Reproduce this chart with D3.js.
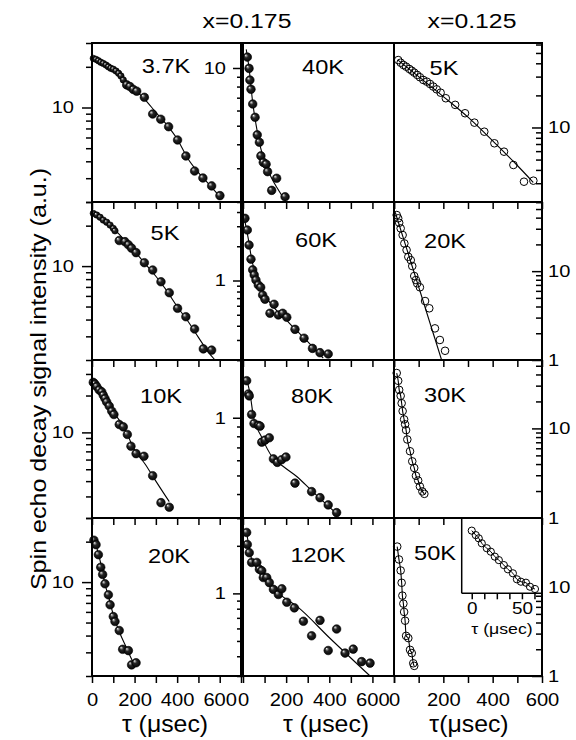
<!DOCTYPE html>
<html>
<head>
<meta charset="utf-8">
<script src="https://cdn.jsdelivr.net/npm/d3@7"></script>
<style>
body { margin: 0; background: #fff; }
svg text { font-family: "Liberation Sans", Arial, Helvetica, sans-serif; fill: #000; }
</style>
</head>
<body>
<svg id="chart" width="576" height="740"></svg>
<script>
// spin echo decay, [tau (usec), intensity (a.u.)]
// x = 0.175
var d175_3K7 = [[6,23.1],[19,22.7],[30,22.2],[41,21.6],[53,21.2],[66,20.6],[77,20.0],[88,19.5],[100,19.2],[113,18.6],[125,17.9],[136,17.1],[147,16.0],[163,14.7],[178,14.3],[194,13.6],[210,13.2],[246,11.9],[285,8.95],[323,8.19],[360,7.21],[402,5.75],[441,4.38],[482,3.39],[521,3.01],[562,2.63],[601,2.23]];
var d175_5K = [[6,24.7],[22,24.0],[38,23.1],[53,22.0],[69,21.2],[85,20.2],[100,19.1],[108,18.3],[128,15.5],[155,15.2],[171,14.4],[186,13.6],[207,12.6],[246,10.6],[285,9.35],[324,7.65],[363,6.34],[402,4.85],[441,4.20],[482,3.40],[523,2.42],[562,2.37]];
var d175_10K = [[6,25.6],[14,24.8],[22,23.7],[34,22.2],[46,21.4],[53,20.1],[61,18.9],[69,17.7],[81,16.4],[93,14.9],[103,14.0],[128,11.6],[147,11.1],[166,9.62],[183,7.71],[207,6.71],[244,6.38],[285,4.43],[324,2.67],[363,2.45]];
var d175_20K = [[9,20.5],[19,19.0],[30,16.0],[41,12.9],[50,11.4],[61,9.72],[77,8.04],[85,6.78],[100,5.54],[108,5.09],[128,4.36],[144,3.16],[171,3.09],[186,2.42],[207,2.51]];
var d175_40K = [[20,11.4],[28,9.95],[32,8.65],[37,7.74],[45,6.49],[56,5.53],[66,4.48],[76,4.10],[83,3.48],[94,3.22],[107,3.15],[114,2.88],[133,2.30],[156,2.66],[195,2.13]];
var d175_60K = [[9,3.52],[20,2.78],[28,2.05],[37,1.54],[45,1.24],[52,1.12],[60,1.01],[71,0.914],[82,0.871],[91,0.746],[102,0.684],[125,0.515],[144,0.618],[164,0.498],[184,0.515],[203,0.475],[241,0.372],[283,0.311],[322,0.253],[357,0.232],[395,0.226]];
var d175_80K = [[17,1.56],[25,1.33],[29,1.30],[40,1.04],[51,0.933],[71,0.912],[79,0.904],[87,0.746],[102,0.764],[122,0.786],[141,0.610],[159,0.585],[179,0.604],[199,0.624],[241,0.456],[318,0.412],[357,0.383],[395,0.351],[434,0.320]];
var d175_120K = [[17,2.43],[20,2.04],[29,1.81],[40,1.57],[64,1.57],[76,1.42],[87,1.39],[94,1.26],[110,1.26],[122,1.17],[141,1.06],[164,0.984],[180,1.07],[203,0.879],[238,0.810],[280,0.666],[318,0.539],[357,0.675],[395,0.435],[434,0.595],[473,0.419],[511,0.444],[550,0.370],[589,0.362]];
// x = 0.125
var d125_5K = [[17,42.9],[27,40.5],[38,38.6],[49,37.2],[62,35.4],[72,34.1],[82,32.7],[94,31.1],[105,29.6],[119,27.9],[133,26.9],[146,25.6],[159,24.2],[173,22.8],[189,21.2],[210,18.8],[248,16.3],[288,13.6],[326,11.1],[366,9.13],[407,7.11],[446,5.93],[484,4.45],[527,3.10],[565,3.17]];
var d125_20K = [[11,42.8],[17,39.3],[21,35.0],[27,30.3],[35,25.5],[42,20.5],[51,17.3],[58,14.5],[68,13.3],[74,11.4],[82,8.81],[89,7.94],[94,7.29],[105,6.58],[126,4.61],[143,3.82],[166,2.27],[186,1.68],[207,1.27]];
var d125_30K = [[11,41.5],[17,34.0],[21,26.9],[27,23.1],[31,19.1],[35,15.6],[41,12.6],[45,11.1],[49,9.57],[54,7.52],[65,5.56],[74,4.29],[82,3.62],[89,2.96],[98,2.62],[105,2.25],[115,1.98],[123,1.86]];
var d125_50K = [[13,28.6],[20,20.5],[27,15.4],[31,11.2],[34,8.03],[38,6.52],[41,5.26],[45,4.19],[49,2.83],[58,2.67],[65,1.97],[72,1.81],[78,1.39],[82,1.30]];
var d125_50K_inset = [[0,25.3],[4,23.5],[7,22.2],[10,20.2],[15,18.2],[19,16.8],[23,14.8],[27,13.4],[32,11.4],[36,9.69],[41,8.08],[45,5.65],[49,4.68],[54,4.28],[58,2.66],[63,1.74]];

// fitted curves
var f175_3K7 = [[0,23.6],[50,21.4],[100,19.3],[150,16.3],[200,13.6],[250,11.4],[300,9.2],[350,7.5],[400,5.85],[450,4.2],[500,3.3],[550,2.7],[600,2.2]];
var f175_5K = [[0,25.5],[50,22.5],[100,19.2],[150,15.8],[200,12.9],[250,10.4],[300,8.4],[350,6.6],[400,5.0],[450,3.9],[500,2.95],[550,2.25],[578,2.0]];
var f175_10K = [[0,27.5],[50,21.5],[100,14.8],[150,11.0],[200,7.2],[250,5.5],[300,4.0],[363,2.72]];
var f175_20K = [[0,22],[20,18.5],[40,14],[60,9.8],[80,7.6],[100,5.7],[130,4.2],[160,3.3],[190,2.6],[210,2.35]];
var f175_40K = [[15,12.5],[28,10],[45,6.6],[60,5.1],[80,3.9],[100,3.25],[130,2.7],[160,2.35],[200,2.0]];
var f175_60K = [[5,3.6],[15,2.9],[25,2.3],[40,1.55],[60,1.1],[80,0.88],[110,0.7],[150,0.56],[200,0.45],[250,0.36],[300,0.29],[340,0.24],[372,0.208]];
var f175_80K = [[15,1.6],[32,1.35],[48,1.02],[87,0.79],[133,0.63],[187,0.557],[249,0.494],[318,0.417],[442,0.31]];
var f175_120K = [[17,2.43],[40,1.65],[94,1.29],[171,0.985],[249,0.83],[403,0.52],[589,0.3]];
var f125_5K = [[15,43],[100,30],[200,19.5],[300,12.5],[400,7.5],[500,4.4],[565,3.05]];
var f125_20K = [[5,46],[193,1.0]];

var colLabels = ['x=0.175', 'x=0.125'];
var xTickLabels = [0, 200, 400, 600];
var yTitle = 'Spin echo decay signal intensity (a.u.)';

// layout
var colX = [[92, 241], [243, 394], [394, 542]];
var rowY = [43, 202, 360, 518, 676];
var xMax = [700, 700, 600];
var SX = 1.18; // glyphs in the reference are a bit wider than Arial

// nSmall: the densely sampled first points are drawn with smaller balls
var panels = [
    {col:0, row:0, label:'3.7K', lx:166, ly:73, dom:[2,30],    pts:d175_3K7,  fit:f175_3K7, nSmall:13},
    {col:1, row:0, label:'40K',  lx:323, ly:74, dom:[2,13.5],  pts:d175_40K,  fit:f175_40K},
    {col:2, row:0, label:'5K',   lx:444, ly:75, dom:[2,62],    pts:d125_5K,   fit:f125_5K},
    {col:0, row:1, label:'5K',   lx:165, ly:240, dom:[2,30],   pts:d175_5K,   fit:f175_5K, nSmall:8},
    {col:1, row:1, label:'60K',  lx:316, ly:247, dom:[0.2,4.9],pts:d175_60K,  fit:f175_60K},
    {col:2, row:1, label:'20K',  lx:445, ly:248, dom:[1,60],   pts:d125_20K,  fit:f125_20K},
    {col:0, row:2, label:'10K',  lx:161, ly:403, dom:[2,39],   pts:d175_10K,  fit:f175_10K},
    {col:1, row:2, label:'80K',  lx:312, ly:403, dom:[0.3,2.0],pts:d175_80K,  fit:f175_80K},
    {col:2, row:2, label:'30K',  lx:445, ly:402, dom:[1,58],   pts:d125_30K,  fit:d125_30K},
    {col:0, row:3, label:'20K',  lx:169, ly:563, dom:[2,30],   pts:d175_20K,  fit:f175_20K},
    {col:1, row:3, label:'120K', lx:318, ly:562, dom:[0.3,3.0],pts:d175_120K, fit:f175_120K},
    {col:2, row:3, label:'50K',  lx:435, ly:560, dom:[1,60],   pts:d125_50K,  fit:d125_50K}
];

var svg = d3.select('#chart');

// dark ball with a small highlight, like the filled symbols
var grad = svg.append('defs').append('radialGradient')
    .attr('id', 'ball').attr('cx', '50%').attr('cy', '50%').attr('r', '55%')
    .attr('fx', '30%').attr('fy', '28%');
grad.append('stop').attr('offset', '0%').attr('stop-color', '#ffffff');
grad.append('stop').attr('offset', '14%').attr('stop-color', '#a0a0a0');
grad.append('stop').attr('offset', '40%').attr('stop-color', '#262626');
grad.append('stop').attr('offset', '100%').attr('stop-color', '#000');

function stretch(sel, sx){
    sel.each(function(){
        var t = d3.select(this);
        var x = +t.attr('x') || 0, y = +t.attr('y') || 0;
        t.attr('x', null).attr('y', null)
         .attr('transform', 'translate(' + x + ',' + y + ') scale(' + sx + ',1)');
    });
}

function label(x, y, str, size, anchor, sx){
    return svg.append('text')
        .attr('transform', 'translate(' + x + ',' + y + ') scale(' + (sx || SX) + ',1)')
        .attr('text-anchor', anchor || 'middle')
        .style('font-size', size + 'px')
        .text(str);
}

function isMajor(v){
    var l = Math.log10(v);
    return Math.abs(l - Math.round(l)) < 1e-6;
}

function cleanAxis(g){
    g.select('.domain').remove();
    g.selectAll('line').attr('stroke', '#000').attr('stroke-width', 1.5);
    g.selectAll('text').style('font-size', '17px').attr('fill', '#000');
}

var line = d3.line().curve(d3.curveMonotoneX);

panels.forEach(function(p){
    var x0 = colX[p.col][0], x1 = colX[p.col][1];
    var yTop = rowY[p.row], yBot = rowY[p.row + 1];
    var x = d3.scaleLinear().domain([0, xMax[p.col]]).range([x0, x1]);
    var y = d3.scaleLog().domain(p.dom).range([yBot, yTop]);
    var g = svg.append('g');

    var yt = y.ticks().filter(function(v){ return v >= p.dom[0] - 1e-9 && v <= p.dom[1] + 1e-9; });
    var major = yt.filter(isMajor), minor = yt.filter(function(v){ return !isMajor(v); });

    if(p.col < 2){
        g.append('g').attr('transform', 'translate(' + x0 + ',0)')
            .call(d3.axisLeft(y).tickValues(minor).tickSize(6).tickFormat(''))
            .call(cleanAxis);
        g.append('g').attr('transform', 'translate(' + x0 + ',0)')
            .call(d3.axisLeft(y).tickValues(major).tickSize(10).tickPadding(p.col === 0 ? 8 : 7).tickFormat(d3.format('~g')))
            .call(cleanAxis)
            .selectAll('text').call(stretch, SX);
    }else{
        g.append('g').attr('transform', 'translate(' + x1 + ',0)')
            .call(d3.axisRight(y).tickValues(minor).tickSizeInner(-6).tickSizeOuter(0).tickFormat(''))
            .call(cleanAxis);
        g.append('g').attr('transform', 'translate(' + x1 + ',0)')
            .call(d3.axisRight(y).tickValues(major).tickSizeInner(-10).tickSizeOuter(0).tickPadding(6).tickFormat(d3.format('~g')))
            .call(cleanAxis)
            .selectAll('text').call(stretch, SX);
    }

    var xt = d3.range(0, xMax[p.col] + 1, 100);
    var xa = g.append('g').attr('transform', 'translate(0,' + yBot + ')')
        .call(d3.axisBottom(x).tickValues(xt).tickSize(7).tickPadding(10)
            .tickFormat(function(d){ return p.row === 3 && xTickLabels.indexOf(d) >= 0 ? d : ''; }))
        .call(cleanAxis);
    xa.selectAll('text').style('font-size', '18px').call(stretch, 1.12);

    // fit curve
    g.append('path')
        .datum(p.fit)
        .attr('d', line.x(function(d){ return x(d[0]); }).y(function(d){ return y(d[1]); }))
        .attr('fill', 'none').attr('stroke', '#000').attr('stroke-width', 1.1);

    // data
    var open = p.col === 2;
    var nSmall = p.nSmall || 0;
    g.selectAll('circle.pt').data(p.pts).enter().append('circle')
        .attr('class', 'pt')
        .attr('cx', function(d){ return x(d[0]); })
        .attr('cy', function(d){ return y(d[1]); })
        .attr('r', function(d, i){ return open ? 3.8 : (i < nSmall ? 3.2 : 4.3); })
        .attr('fill', open ? 'none' : 'url(#ball)')
        .attr('stroke', '#000').attr('stroke-width', open ? 1 : 0.6);

    label(p.lx, p.ly, p.label, 20);
});

// inset in the 50 K panel
(function(){
    var ix0 = 461.7, ix1 = 542, iy0 = 519, iy1 = 593.3;
    var x = d3.scaleLinear().domain([-10, 70]).range([ix0, ix1]);
    var y = d3.scaleLinear().domain([0, 30]).range([iy1, iy0]);
    var g = svg.append('g');
    g.append('rect').attr('x', ix0).attr('y', iy0).attr('width', ix1 - ix0).attr('height', iy1 - iy0)
        .attr('fill', '#fff').attr('stroke', 'none');
    var xa = g.append('g').attr('transform', 'translate(0,' + iy1 + ')')
        .call(d3.axisBottom(x).tickValues([0, 12.5, 25, 37.5, 50, 62.5]).tickSize(6).tickPadding(3)
            .tickFormat(function(d){ return d === 0 || d === 50 ? d : ''; }))
        .call(cleanAxis);
    xa.selectAll('text').style('font-size', '16px').call(stretch, SX);
    g.append('line').attr('x1', ix0).attr('x2', ix1).attr('y1', iy1).attr('y2', iy1)
        .attr('stroke', '#000').attr('stroke-width', 1.5);
    g.append('line').attr('x1', ix0).attr('x2', ix0).attr('y1', iy0).attr('y2', iy1)
        .attr('stroke', '#000').attr('stroke-width', 1.5);
    g.append('path').datum(d125_50K_inset)
        .attr('d', d3.line().curve(d3.curveMonotoneX).x(function(d){ return x(d[0]); }).y(function(d){ return y(d[1]); }))
        .attr('fill', 'none').attr('stroke', '#000').attr('stroke-width', 1);
    g.selectAll('circle').data(d125_50K_inset).enter().append('circle')
        .attr('cx', function(d){ return x(d[0]); })
        .attr('cy', function(d){ return y(d[1]); })
        .attr('r', 3.6).attr('fill', 'none').attr('stroke', '#000').attr('stroke-width', 1);
    label(502, 634, 'τ (μsec)', 15);
})();

// panel frames
colX.forEach(function(c){
    rowY.slice(0, 4).forEach(function(r, i){
        svg.append('rect').attr('x', c[0]).attr('y', r)
            .attr('width', c[1] - c[0]).attr('height', rowY[i + 1] - r)
            .attr('fill', 'none').attr('stroke', '#000').attr('stroke-width', 2);
    });
});

// titles
label(247, 28, colLabels[0], 21);
label(472, 28, colLabels[1], 21);
label(165, 732, 'τ (μsec)', 23, 'middle', 1.08);
label(326, 732, 'τ (μsec)', 23, 'middle', 1.08);
label(469, 732, 'τ(μsec)', 23, 'middle', 1.08);
svg.append('text')
    .attr('transform', 'translate(46,379) rotate(-90) scale(1.14,1)')
    .attr('text-anchor', 'middle')
    .style('font-size', '22px')
    .text(yTitle);
</script>
</body>
</html>
